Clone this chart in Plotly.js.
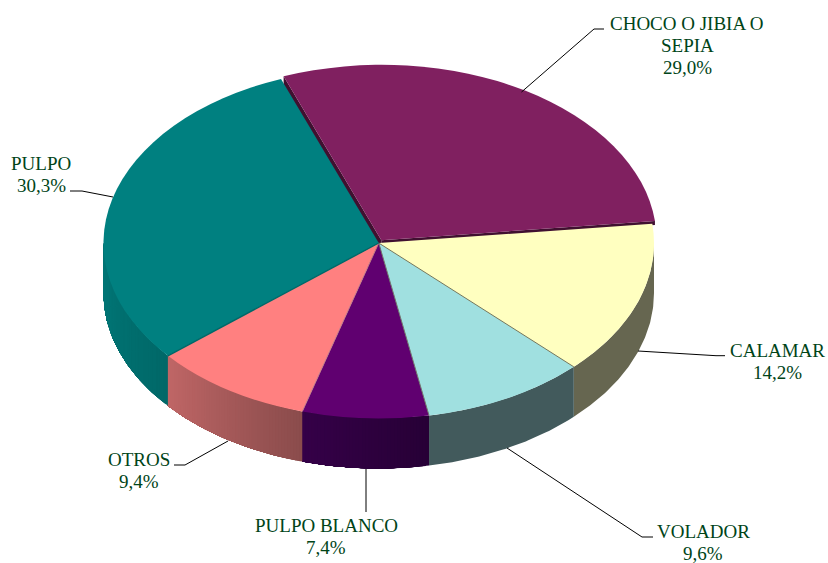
<!DOCTYPE html>
<html>
<head>
<meta charset="utf-8">
<script src="https://cdn.plot.ly/plotly-3.0.1.min.js"></script>
<style>html,body{margin:0;padding:0;background:#fff}#chart{width:828px;height:563px}</style>
</head>
<body>
<div id="chart"></div>
<script>
// ---- data ----
const categories = ["CHOCO O JIBIA O SEPIA", "CALAMAR", "VOLADOR", "PULPO BLANCO", "OTROS", "PULPO"];
const shares = [29.0, 14.2, 9.6, 7.4, 9.4, 30.3];
const shareLabels = ["29,0%", "14,2%", "9,6%", "7,4%", "9,4%", "30,3%"];
const nameLines = [["CHOCO O JIBIA O", "SEPIA"], ["CALAMAR"], ["VOLADOR"], ["PULPO BLANCO"], ["OTROS"], ["PULPO"]];

// ---- styles ----
const topColors = ["#802060", "#FFFFC0", "#A0E0E0", "#600070", "#FF8080", "#008080"];
// wall shade at the clockwise start of each slice (its right side on the front) and at its end
const wallStart = ["#401030", "#666650", "#425A5C", "#270036", "#8A4C4C", "#006868"];
const wallEnd   = ["#401030", "#666650", "#425A5C", "#350048", "#C06666", "#007878"];
// seam drawn at the clockwise end of each slice
const seamColors = [null, "#77775A", "#70786E", "#C07A88", "#006868", null];
const seamWidths = [0, 1, 1, 1, 1.4, 0];
const textColor = "#004418";

// ---- geometry of the tilted disc ----
const W = 828, H = 563;
const cx = 378.75, cy = 243, rx = 275.25, ry = 175.5, depth = 50;
const pull = 5 / rx;
const startDeg = -20.8;
const flatCy = H / 2;
const squash = ry / rx;
const domainHalf = rx * (1 + pull);
const total = shares.reduce((a, b) => a + b, 0);
const rad = d => d * Math.PI / 180;
const px = d => cx + rx * Math.sin(rad(d));
const py = d => cy - ry * Math.cos(rad(d));

const edges = [startDeg];
shares.forEach(v => edges.push(edges[edges.length - 1] + v / total * 360));

const hex = s => [1, 3, 5].map(i => parseInt(s.substr(i, 2), 16));
const mix = (a, b, t) => {
  const A = hex(a), B = hex(b);
  return "rgb(" + A.map((v, i) => Math.round(v + (B[i] - v) * t)).join(",") + ")";
};

const traces = [];
function poly(xs, ys, color) {
  traces.push({
    type: "scatter", mode: "lines", x: xs, y: ys, fill: "toself", fillcolor: color,
    line: { color: color, width: 0 }, hoverinfo: "skip", showlegend: false
  });
}

// outer walls: only the part of each slice that faces the viewer (90..270 deg).
// Each shade band runs on to the slice's end and the next one paints over it, so no seams show.
shares.forEach((v, i) => {
  const a0 = Math.max(edges[i], 90), a1 = Math.min(edges[i + 1], 270);
  if (a1 <= a0) return;
  const flat = wallStart[i] === wallEnd[i];
  const bands = flat ? 1 : Math.ceil((a1 - a0) * 1.5);
  for (let b = 0; b < bands; b++) {
    const s = a0 + (a1 - a0) * b / bands;
    const n = Math.max(2, Math.ceil((a1 - s) * 2));
    const xs = [], ys = [];
    for (let k = 0; k <= n; k++) { const d = s + (a1 - s) * k / n; xs.push(px(d)); ys.push(py(d)); }
    for (let k = n; k >= 0; k--) { const d = s + (a1 - s) * k / n; xs.push(px(d)); ys.push(py(d) + depth); }
    poly(xs, ys, mix(wallStart[i], wallEnd[i], flat ? 0 : (b + 0.5) / bands));
  }
});

// cut faces of the pulled slice, seen in the gap it leaves
const mid0 = (edges[0] + edges[1]) / 2;
const ox = pull * rx * Math.sin(rad(mid0)), oy = -pull * ry * Math.cos(rad(mid0));
[[edges[0], depth], [edges[1], 4]].forEach(([a, h]) => {
  poly([cx + ox, px(a) + ox, px(a) + ox, cx + ox],
       [cy + oy, py(a) + oy, py(a) + oy + h, cy + oy + h], wallStart[0]);
});

// top face
traces.push({
  type: "pie", labels: categories, values: shares, sort: false, direction: "clockwise",
  rotation: startDeg, pull: [pull, 0, 0, 0, 0, 0], textinfo: "none",
  marker: { colors: topColors, line: { width: 0 } },
  domain: { x: [(cx - domainHalf) / W, (cx + domainHalf) / W], y: [0, 1] },
  showlegend: false, hoverinfo: "label+percent"
});

// seams on the top face
const shapes = [];
seamColors.forEach((c, i) => {
  if (!c) return;
  const a = edges[i + 1];
  shapes.push({ type: "line", xref: "x", yref: "y", x0: cx, y0: cy, x1: px(a), y1: py(a),
                line: { color: c, width: seamWidths[i] }, layer: "above" });
});

// leader lines
const leaders = [
  [[521.5, 92], [594, 29], [604, 29]],
  [[638, 351], [716, 355.7], [725, 355.7]],
  [[507, 448], [642, 537], [653, 537]],
  [[366, 469], [366, 512]],
  [[228, 441], [185, 465], [174, 465]],
  [[113, 197], [82, 191], [70, 191]]
];
leaders.forEach(p => shapes.push({
  type: "path", xref: "x", yref: "y", layer: "above",
  path: "M" + p.map(q => q.join(",")).join("L"),
  line: { color: "#000", width: 1 }
}));

// labels: centre x and baseline of the first line of each label
const labelAnchors = [[687, 29], [777, 356], [703, 537], [326, 531], [138.5, 465], [41, 169]];
const lineStep = 22;
const annotations = [];
categories.forEach((c, i) => {
  const lines = nameLines[i].concat([shareLabels[i]]);
  lines.forEach((t, j) => annotations.push({
    xref: "x", yref: "y", x: labelAnchors[i][0], y: labelAnchors[i][1] + j * lineStep - 6,
    text: t, showarrow: false, xanchor: "center", yanchor: "middle",
    font: { family: "Liberation Serif, Times New Roman, serif", size: 19, color: textColor }
  }));
});

const layout = {
  width: W, height: H, margin: { l: 0, r: 0, t: 0, b: 0 },
  paper_bgcolor: "#fff", plot_bgcolor: "#fff", showlegend: false,
  xaxis: { range: [0, W], visible: false, fixedrange: true },
  yaxis: { range: [H, 0], visible: false, fixedrange: true },
  shapes: shapes, annotations: annotations
};

Plotly.newPlot("chart", traces, layout, { staticPlot: true, displayModeBar: false }).then(gd => {
  // tilt the flat pie into the disc's ellipse
  const layer = gd.querySelector(".pielayer");
  layer.setAttribute("transform",
    "translate(0," + cy + ") scale(1," + squash + ") translate(0," + (-flatCy) + ")");
});
</script>
</body>
</html>
